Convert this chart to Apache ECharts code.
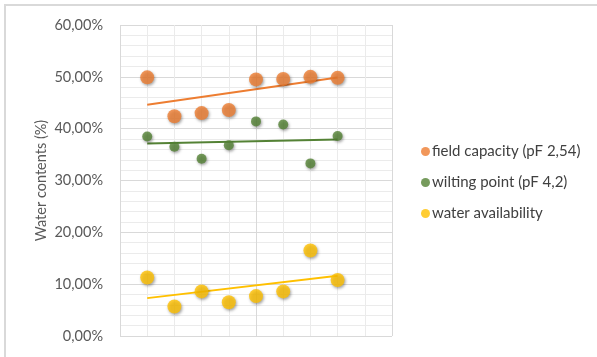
<!DOCTYPE html>
<html>
<head>
<meta charset="utf-8">
<script src="https://cdn.jsdelivr.net/npm/echarts@6/dist/echarts.min.js"></script>
<style>
  html, body { margin: 0; padding: 0; background: #fff; }
  #chart { width: 597px; height: 357px; }
</style>
</head>
<body>
<div id="chart"></div>
<script>
// Sample positions along the x axis
const samples = [1, 2, 3, 4, 5, 6, 7, 8];
// Water contents in percent
const fieldCapacity = [49.9, 42.4, 43.0, 43.6, 49.5, 49.6, 50.0, 49.8];
const wiltingPoint = [38.5, 36.5, 34.2, 36.8, 41.4, 40.8, 33.3, 38.6];
const waterAvailability = [11.3, 5.7, 8.6, 6.5, 7.7, 8.6, 16.5, 10.8];
const seriesNames = ['field capacity (pF 2,54)', 'wilting point (pF 4,2)', 'water availability'];
const colors = ['#ED7D31', '#548235', '#FFC000'];
const yTicks = { min: 0, max: 60, step: 10 };

// Least-squares linear trend over the sample positions
function trend(xs, ys) {
  const n = xs.length;
  const mx = xs.reduce((a, b) => a + b, 0) / n;
  const my = ys.reduce((a, b) => a + b, 0) / n;
  let sxy = 0, sxx = 0;
  for (let i = 0; i < n; i++) {
    sxy += (xs[i] - mx) * (ys[i] - my);
    sxx += (xs[i] - mx) * (xs[i] - mx);
  }
  const slope = sxy / sxx;
  const x0 = xs[0], x1 = xs[n - 1];
  return [[x0, my + slope * (x0 - mx)], [x1, my + slope * (x1 - mx)]];
}

const values = [fieldCapacity, wiltingPoint, waterAvailability];
const sizes = [14, 10, 14];
const font = 'Lato, "Open Sans", sans-serif';

const series = [];
values.forEach((vals, i) => {
  series.push({
    type: 'line',
    data: trend(samples, vals),
    showSymbol: false,
    symbol: 'none',
    silent: true,
    lineStyle: { color: colors[i], width: 2 },
    z: 2
  });
});
values.forEach((vals, i) => {
  series.push({
    name: seriesNames[i],
    type: 'scatter',
    data: samples.map((x, k) => [x, vals[k]]),
    symbolSize: sizes[i],
    itemStyle: {
      color: colors[i],
      shadowBlur: 3,
      shadowColor: 'rgba(0,0,0,0.45)',
      shadowOffsetX: 1,
      shadowOffsetY: 1.5
    },
    z: 3
  });
});

const chart = echarts.init(document.getElementById('chart'), null, { renderer: 'canvas' });
chart.setOption({
  animation: false,
  backgroundColor: '#fff',
  textStyle: { fontFamily: font },
  graphic: [{
    type: 'rect',
    shape: { x: 5, y: 5, width: 700, height: 500 },
    style: { fill: 'none', stroke: '#d9d9d9', lineWidth: 2 },
    silent: true
  }],
  grid: { left: 120, top: 25, width: 272, height: 311 },
  legend: {
    orient: 'vertical',
    left: 416,
    top: 139,
    itemGap: 16,
    itemWidth: 9,
    itemHeight: 9,
    icon: 'circle',
    data: seriesNames,
    textStyle: { color: '#404040', fontSize: 15, fontFamily: font, padding: [0, 0, 0, -3] }
  },
  xAxis: {
    type: 'value',
    min: 0,
    max: 10,
    interval: 5,
    axisLabel: { show: false },
    axisTick: { show: false },
    axisLine: { show: false },
    splitLine: { show: true, lineStyle: { color: '#d9d9d9', width: 1 } },
    minorTick: { show: false, splitNumber: 5 },
    minorSplitLine: { show: true, lineStyle: { color: '#ebebeb', width: 1 } }
  },
  yAxis: {
    type: 'value',
    min: yTicks.min,
    max: yTicks.max,
    interval: yTicks.step,
    name: 'Water contents (%)',
    nameLocation: 'middle',
    nameRotate: 90,
    nameGap: 71,
    nameTextStyle: { color: '#595959', fontSize: 14.5, fontFamily: font },
    axisLabel: {
      color: '#595959',
      fontSize: 14.5,
      margin: 17,
      fontFamily: font,
      formatter: v => v.toFixed(2).replace('.', ',') + '%'
    },
    axisTick: { show: false },
    axisLine: { show: false },
    splitLine: { show: true, lineStyle: { color: '#d9d9d9', width: 1 } },
    minorTick: { show: false, splitNumber: 5 },
    minorSplitLine: { show: true, lineStyle: { color: '#ebebeb', width: 1 } }
  },
  series: series
});
</script>
</body>
</html>
